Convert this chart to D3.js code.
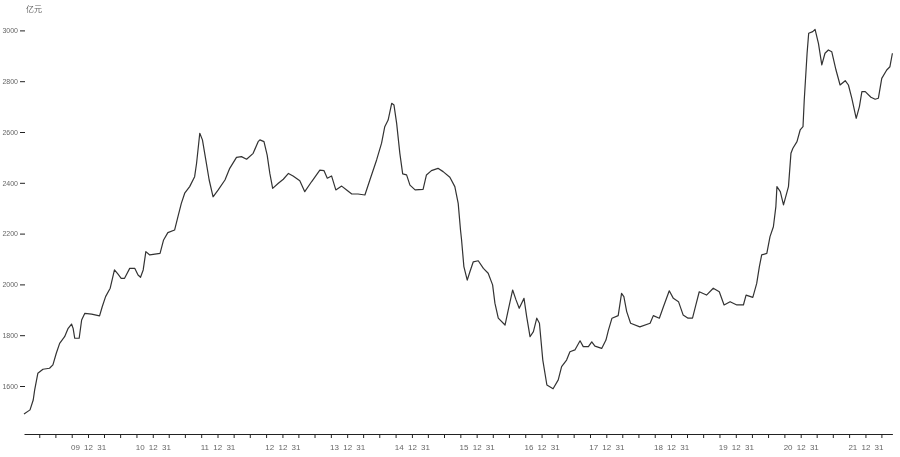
<!DOCTYPE html>
<html>
<head>
<meta charset="utf-8">
<script src="https://cdn.jsdelivr.net/npm/d3@7"></script>
<style>
  html, body { margin: 0; padding: 0; background: #fff; }
  svg { display: block; }
  text { will-change: transform; }
</style>
</head>
<body>
<svg id="chart" width="900" height="457" style="opacity:0.999"></svg>
<script>
const unitLabel = "亿元";
const yTickValues = [1600, 1800, 2000, 2200, 2400, 2600, 2800, 3000];
const xLabelFormat = "%y %m %d";

const dates = [
  "2009-01-04","2009-02-07","2009-02-25","2009-03-05","2009-03-23","2009-04-21","2009-05-28","2009-06-16",
  "2009-07-05","2009-07-24","2009-08-21","2009-09-10","2009-09-29","2009-10-08","2009-10-17","2009-11-11",
  "2009-11-25","2009-12-13","2010-01-20","2010-03-06","2010-03-21","2010-04-09","2010-05-05","2010-05-29",
  "2010-06-17","2010-07-06","2010-07-25","2010-08-23","2010-09-21","2010-10-09","2010-10-23","2010-11-07",
  "2010-11-22","2010-12-14","2011-02-10","2011-03-02","2011-03-26","2011-05-03","2011-05-22","2011-06-10",
  "2011-06-29","2011-07-27","2011-08-24","2011-09-04","2011-09-22","2011-10-07","2011-10-26","2011-11-14",
  "2011-12-06","2012-01-04","2012-02-11","2012-03-09","2012-04-16","2012-05-14","2012-06-12","2012-07-19",
  "2012-08-16","2012-08-26","2012-09-18","2012-10-06","2012-10-21","2012-11-06","2012-12-08","2013-01-05",
  "2013-02-03","2013-03-01","2013-04-08","2013-05-06","2013-06-13","2013-07-11","2013-07-30","2013-08-22",
  "2013-09-10","2013-10-04","2013-10-28","2013-11-30","2013-12-28","2014-01-26","2014-03-02","2014-04-10",
  "2014-05-08","2014-06-15","2014-07-13","2014-07-31","2014-08-19","2014-09-08","2014-09-21","2014-10-06",
  "2014-10-24","2014-11-09","2014-12-01","2014-12-20","2015-01-18","2015-03-04","2015-03-23","2015-04-20",
  "2015-05-27","2015-06-25","2015-08-02","2015-08-30","2015-09-18","2015-10-01","2015-10-07","2015-10-20",
  "2015-11-08","2015-11-23","2015-12-12","2016-01-09","2016-02-07","2016-03-05","2016-03-30","2016-04-12",
  "2016-05-01","2016-06-08","2016-06-26","2016-07-21","2016-08-09","2016-08-27","2016-09-23","2016-10-08",
  "2016-10-27","2016-11-15","2016-12-04","2016-12-19","2017-01-07","2017-01-30","2017-03-06","2017-04-04",
  "2017-04-23","2017-05-21","2017-06-09","2017-07-07","2017-08-05","2017-08-23","2017-09-21","2017-10-10",
  "2017-10-28","2017-12-05","2017-12-29","2018-01-12","2018-02-01","2018-03-08","2018-03-27","2018-04-09",
  "2018-04-25","2018-05-17","2018-07-08","2018-09-04","2018-09-22","2018-10-26","2018-11-18","2018-12-21",
  "2019-01-13","2019-02-11","2019-03-09","2019-04-06","2019-05-01","2019-05-20","2019-06-08","2019-07-19",
  "2019-08-26","2019-09-29","2019-10-26","2019-11-29","2020-01-06","2020-02-12","2020-02-27","2020-04-05",
  "2020-04-27","2020-05-12","2020-05-25","2020-06-23","2020-07-11","2020-07-30","2020-08-13","2020-08-19",
  "2020-09-07","2020-09-25","2020-10-23","2020-11-06","2020-11-17","2020-12-10","2020-12-28","2021-01-13",
  "2021-01-20","2021-02-05","2021-02-14","2021-03-09","2021-03-22","2021-04-10","2021-04-29","2021-05-17",
  "2021-06-05","2021-06-24","2021-07-18","2021-08-10","2021-09-08","2021-09-26","2021-10-15","2021-11-09",
  "2021-11-27","2021-12-11","2021-12-30","2022-01-31","2022-02-24","2022-03-14","2022-04-02","2022-04-30",
  "2022-05-18","2022-06-01"
];

const values = [
  1490,1506,1545,1584,1650,1666,1670,1683,
  1729,1768,1794,1827,1844,1827,1788,1788,
  1860,1886,1883,1876,1912,1952,1985,2057,
  2041,2024,2024,2063,2063,2037,2028,2057,
  2129,2116,2122,2175,2204,2214,2267,2319,
  2359,2385,2424,2477,2595,2569,2490,2411,
  2345,2372,2411,2457,2500,2503,2493,2516,
  2562,2569,2562,2509,2437,2378,2398,2414,
  2437,2427,2408,2365,2404,2431,2450,2448,
  2418,2427,2372,2387,2372,2356,2356,2352,
  2411,2490,2556,2621,2647,2713,2706,2634,
  2516,2435,2431,2391,2372,2374,2431,2448,
  2457,2444,2422,2385,2319,2214,2175,2070,
  2017,2050,2089,2093,2063,2044,1998,1926,
  1867,1840,1899,1978,1939,1906,1945,1873,
  1794,1814,1867,1847,1702,1604,1589,1624,
  1676,1702,1735,1742,1778,1755,1755,1774,
  1757,1748,1781,1820,1867,1877,1965,1952,
  1893,1847,1833,1847,1877,1867,1912,1975,
  1945,1932,1880,1867,1867,1919,1971,1958,
  1985,1971,1919,1932,1919,1919,1958,1949,
  2004,2070,2116,2122,2188,2227,2306,2385,
  2365,2313,2385,2516,2536,2562,2608,2621,
  2726,2910,2989,2995,3004,2949,2864,2910,
  2923,2916,2844,2785,2802,2785,2733,2654,
  2700,2759,2759,2737,2729,2733,2811,2844,
  2857,2910
];

const parse = d3.timeParse("%Y-%m-%d");
const data = dates.map((d, i) => ({ date: parse(d), value: values[i] }));

const svg = d3.select("#chart");
const textColor = "#666";

const x = d3.scaleTime()
  .domain(d3.extent(data, d => d.date))
  .range([24, 892.4]);

const y = d3.scaleLinear()
  .domain([1600, 3000])
  .range([386, 30.4]);

// quarter-end tick dates
const [d0, d1] = x.domain();
const quarterStarts = d3.timeMonth.every(3).range(d3.timeMonth.offset(d0, 1), d1);
const quarterEnds = quarterStarts.map(d => d3.timeDay.offset(d, -1)).filter(d => d >= d0 && d <= d1);
const fmt = d3.timeFormat(xLabelFormat);

const xAxis = d3.axisBottom(x)
  .tickValues(quarterEnds)
  .tickSize(4)
  .tickSizeOuter(0)
  .tickFormat(d => d.getMonth() === 11 ? fmt(d) : "");

const gx = svg.append("g")
  .attr("transform", "translate(0,434)")
  .call(xAxis);
gx.select(".domain").attr("stroke", "#222").attr("stroke-width", 1);
gx.selectAll(".tick line").attr("stroke", "#222");
gx.selectAll(".tick text")
  .attr("fill", textColor)
  .attr("font-family", "Arial, 'Liberation Sans', sans-serif")
  .attr("font-size", 8)
  .attr("word-spacing", 2)
  .attr("dy", "1.1em");

const yAxis = d3.axisLeft(y)
  .tickValues(yTickValues)
  .tickSize(5)
  .tickPadding(2)
  .tickFormat(d3.format("d"));

const gy = svg.append("g")
  .attr("transform", "translate(25,0)")
  .call(yAxis);
gy.select(".domain").remove();
gy.selectAll(".tick line").attr("stroke", "#222");
gy.selectAll(".tick text")
  .attr("fill", textColor)
  .attr("font-family", "Arial, 'Liberation Sans', sans-serif")
  .attr("font-size", 7);

svg.append("text")
  .attr("x", 26)
  .attr("y", 12)
  .attr("fill", textColor)
  .attr("font-family", "'Noto Sans CJK SC', sans-serif")
  .attr("font-size", 8)
  .text(unitLabel);

const line = d3.line()
  .x(d => x(d.date))
  .y(d => y(d.value));

svg.append("path")
  .datum(data)
  .attr("fill", "none")
  .attr("stroke", "#333")
  .attr("stroke-width", 1.2)
  .attr("stroke-linejoin", "round")
  .attr("d", line);
</script>
</body>
</html>
